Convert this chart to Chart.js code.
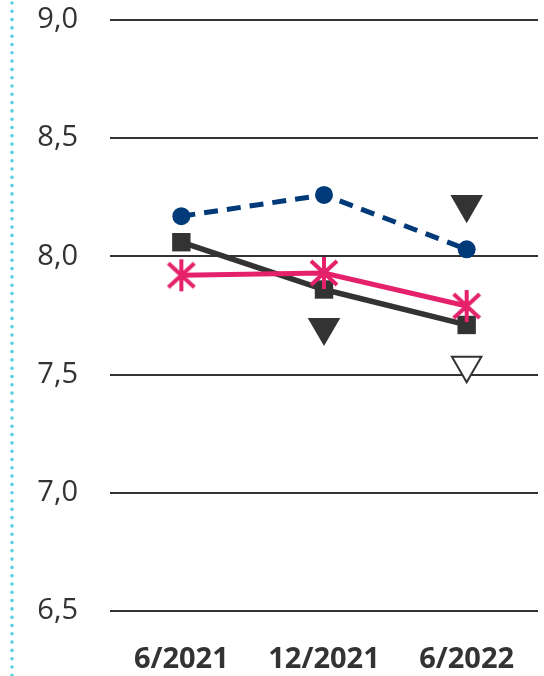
<!DOCTYPE html>
<html>
<head>
<meta charset="utf-8">
<script src="https://cdn.jsdelivr.net/npm/chart.js@4"></script>
<style>
    html, body { margin: 0; padding: 0; background: #fff; }
    #wrap { width: 544px; height: 676px; position: relative; }
</style>
</head>
<body>
<div id="wrap"><canvas id="myLineChart" width="544" height="676"></canvas></div>
<script>
// data
let labels = ['6/2021', '12/2021', '6/2022'];
let blueValues = [8.17, 8.26, 8.03];
let blackValues = [8.06, 7.86, 7.71];
let pinkValues = [7.92, 7.93, 7.79];
let triangleValues = [null, 7.70, 8.22];
let hollowTriangleValues = [null, null, 7.54];
let yMin = 6.5;
let yMax = 9.0;
let yStep = 0.5;

function makeAsterisk() {
    let c = document.createElement('canvas');
    c.width = 32;
    c.height = 34;
    let ctx = c.getContext('2d');
    ctx.strokeStyle = '#e5216b';
    ctx.lineWidth = 4;
    ctx.beginPath();
    ctx.moveTo(16, 1); ctx.lineTo(16, 33);
    ctx.moveTo(3, 5); ctx.lineTo(29, 29);
    ctx.moveTo(29, 5); ctx.lineTo(3, 29);
    ctx.stroke();
    return c;
}

// dotted teal line on the left edge
const leftDots = {
    id: 'leftDots',
    afterDraw(chart) {
        let ctx = chart.ctx;
        ctx.save();
        ctx.fillStyle = '#5ccfe0';
        for (let y = 3; y < 676; y += 8.3) {
            ctx.beginPath();
            ctx.arc(12, y, 1.8, 0, Math.PI * 2);
            ctx.fill();
        }
        ctx.restore();
    }
};

let chart = document.getElementById('myLineChart').getContext('2d');
let myLineChart = new Chart(chart, {
    type: 'line',
    data: {
        labels: labels,
        datasets: [{
            data: blueValues,
            borderColor: '#003a78',
            backgroundColor: '#003a78',
            borderWidth: 5,
            borderDash: [14, 9],
            pointStyle: 'circle',
            pointRadius: 9,
            pointBorderWidth: 0,
            order: 1
        }, {
            data: pinkValues,
            borderColor: '#e5216b',
            backgroundColor: '#e5216b',
            borderWidth: 5,
            pointStyle: makeAsterisk(),
            order: 2
        }, {
            data: blackValues,
            borderColor: '#333333',
            backgroundColor: '#333333',
            borderWidth: 5.5,
            pointStyle: 'rect',
            pointRadius: 13,
            pointBorderWidth: 0,
            order: 3
        }, {
            data: triangleValues,
            showLine: false,
            borderColor: '#333333',
            backgroundColor: '#333333',
            borderWidth: 0,
            pointStyle: 'triangle',
            rotation: 180,
            pointRadius: 18.8,
            order: 4
        }, {
            data: hollowTriangleValues,
            showLine: false,
            borderColor: '#333333',
            backgroundColor: '#ffffff',
            pointBorderWidth: 2,
            pointStyle: 'triangle',
            rotation: 180,
            pointRadius: 17,
            order: 5
        }]
    },
    options: {
        responsive: false,
        animation: false,
        layout: { autoPadding: false, padding: { top: 20, right: 6, left: 0, bottom: 0 } },
        plugins: {
            legend: { display: false },
            tooltip: { enabled: false }
        },
        scales: {
            x: {
                offset: true,
                afterFit: function (axis) { axis.height = 65; axis.paddingLeft = 0; axis.paddingRight = 0; },
                grid: { display: false, drawTicks: false },
                border: { display: false },
                ticks: {
                    color: '#333333',
                    padding: 31,
                    maxRotation: 0,
                    font: { family: 'Open Sans', size: 29, weight: 'bold' }
                }
            },
            y: {
                min: yMin,
                max: yMax,
                afterFit: function (axis) { axis.width = 110; axis.paddingTop = 0; axis.paddingBottom = 0; },
                grid: { color: '#333333', lineWidth: 2, drawTicks: false },
                border: { display: false },
                ticks: {
                    stepSize: yStep,
                    padding: 32,
                    color: '#333333',
                    font: { family: 'Open Sans', size: 29 },
                    callback: function (v) { return v.toFixed(1).replace('.', ','); }
                }
            }
        }
    },
    plugins: [leftDots]
});
</script>
</body>
</html>
